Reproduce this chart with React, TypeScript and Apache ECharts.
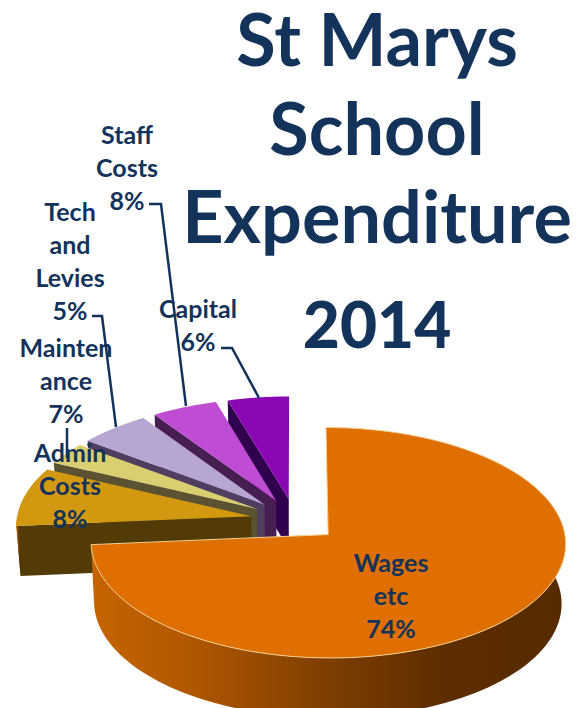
import React, { useEffect, useRef } from "react";
import * as echarts from "echarts";

// Data, listed in drawing order (back to front)
const categories = ["Capital", "Staff Costs", "Tech and Levies", "Maintenance", "Admin Costs", "Wages etc"];
const sliceShares = [4.56, 4.89, 5.28, 3.22, 8.44, 73.61]; // share of the circle as drawn
const printedPercents = [6, 8, 5, 7, 8, 74]; // percentages as printed on the labels
const wrappedNames = ["Capital", "Staff\nCosts", "Tech\nand\nLevies", "Mainten\nance", "Admin\nCosts", "Wages\netc"];
const titleLines = ["St Marys", "School", "Expenditure"];
const titleYear = "2014";

// Styles
const NAVY = "#14335A";
const topColors = ["#8A08B4", "#BE4DD3", "#B7A5D2", "#D9CE70", "#D29810", "#DE6F00"];
const faceColors = ["#30004F", "#471E52", "#4F3E5F", "#5A5230", "#533B08", "#7A3C00"];

// Layout
const X = 295, Y = 520, RX = 234.6, RY = 112.6, PERSPECTIVE = 0.07, EXPLODE = 0.19;
const FONT = "Lato";
const titleTops = [3, 92, 180];
const labelCentres: number[][] = [[198, 324], [127, 167], [70, 260], [66, 380], [70, 485], [391, 595]];
const leaders: number[][][] = [
  [[221, 348], [232, 348], [259, 398]],
  [[149, 204], [161, 204], [186, 406]],
  [[92, 316], [102, 316], [116, 427]],
  [[67, 428], [67, 458]],
  [],
  [],
];

const project = (u: number, v: number) => {
  const s = 1 / (1 - PERSPECTIVE * v);
  return [X + RX * u * s, Y + RY * v * s];
};
const drop = (p: number[], depth: number) => [X + (p[0] - X) * 0.985, p[1] + depth];
const rad = (d: number) => (d * Math.PI) / 180;

const renderSlice = (params: any, api: any) => {
  const i = params.dataIndex;
  const share = api.value(0);
  const before = sliceShares.slice(0, i).reduce((a, b) => a + b, 0);
  const thetaEnd = 360 - (before / 100) * 360;
  const thetaStart = thetaEnd - (share / 100) * 360;
  const mid = rad((thetaStart + thetaEnd) / 2);
  const eu = EXPLODE * Math.sin(mid), ev = -EXPLODE * Math.cos(mid);
  const isLarge = share > 50;
  const depth = isLarge ? 60 : 50;
  const rim = (t: number) => project(eu + Math.sin(rad(t)), ev - Math.cos(rad(t)));
  const apex = project(eu, ev);

  const arc: number[][] = [];
  for (let t = thetaStart; t < thetaEnd; t += 2) arc.push(rim(t));
  arc.push(rim(thetaEnd));

  const children: any[] = [];
  // cut face along the lower-angle edge
  if (!isLarge) {
    const a = rim(thetaStart);
    children.push({
      type: "polygon",
      shape: { points: [a, apex, drop(apex, depth), drop(a, depth)] },
      style: { fill: faceColors[i] },
    });
  }
  // outer wall, only where it faces the viewer
  const from = Math.max(thetaStart, 80), to = Math.min(thetaEnd, 270);
  if (to > from) {
    const upper: number[][] = [];
    for (let t = from; t < to; t += 2) upper.push(rim(t));
    upper.push(rim(to));
    const lower = upper.map((p) => drop(p, depth)).reverse();
    children.push({
      type: "polygon",
      shape: { points: [...upper, ...lower] },
      style: {
        fill: new echarts.graphic.LinearGradient(0, 0, 1, 0, [
          { offset: 0, color: "#C66400" },
          { offset: 0.2, color: "#B25800" },
          { offset: 0.5, color: "#7E3E00" },
          { offset: 0.75, color: "#5C2D00" },
          { offset: 1, color: "#572B00" },
        ]),
      },
    });
  }
  // top face
  children.push({
    type: "polygon",
    shape: { points: [apex, ...arc] },
    style: isLarge
      ? { fill: topColors[i], stroke: "#F3CF92", lineWidth: 1 }
      : { fill: topColors[i] },
  });
  // leader
  if (leaders[i].length) {
    children.push({
      type: "polyline",
      z2: 100,
      shape: { points: leaders[i] },
      style: { stroke: NAVY, lineWidth: 2.5, fill: "none" },
    });
  }
  // label
  children.push({
    type: "text",
    x: labelCentres[i][0],
    y: labelCentres[i][1],
    z2: 101,
    style: {
      text: `${wrappedNames[i]}\n${printedPercents[i]}%`,
      fill: NAVY,
      fontFamily: FONT,
      fontSize: 25,
      fontWeight: 700,
      lineHeight: 33,
      align: "center",
      verticalAlign: "middle",
    },
  });
  return { type: "group", children };
};

export default function App() {
  const ref = useRef<HTMLDivElement>(null);
  useEffect(() => {
    document.body.style.margin = "0";
    const chart = echarts.init(ref.current!, undefined, { renderer: "svg" });
    chart.setOption({
      animation: false,
      backgroundColor: "#ffffff",
      title: [
        ...titleLines.map((text, i) => ({
          text,
          left: 372,
          top: titleTops[i],
          textAlign: "center",
          textStyle: {
            color: NAVY,
            fontFamily: FONT,
            fontSize: 72,
            fontWeight: 700,
            lineHeight: 60,
          },
        })),
        {
          text: titleYear,
          left: 372,
          top: 286,
          textAlign: "center",
          textStyle: { color: NAVY, fontFamily: FONT, fontSize: 64, fontWeight: 900 },
        },
      ],
      series: [
        {
          type: "custom",
          coordinateSystem: "none",
          renderItem: renderSlice,
          data: categories.map((name, i) => ({ name, value: [sliceShares[i]] })),
          silent: true,
        },
      ],
    });
    return () => chart.dispose();
  }, []);
  return <div ref={ref} style={{ position: "absolute", left: 0, top: 0, width: 578, height: 708 }} />;
}
